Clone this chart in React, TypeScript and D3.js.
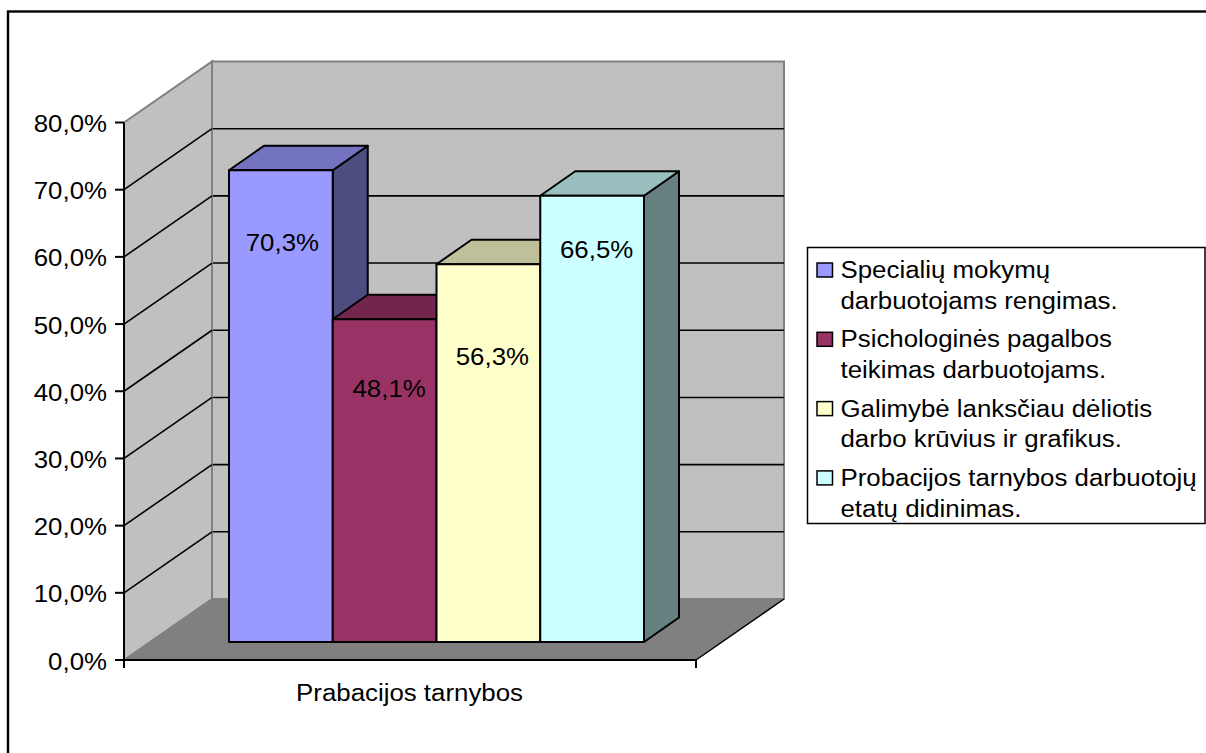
import React from "react";
import * as d3 from "d3";

const categories = ["Prabacijos tarnybos"];
const seriesValues = [70.3, 48.1, 56.3, 66.5];
const valueLabels = ["70,3%", "48,1%", "56,3%", "66,5%"];
const seriesFront = ["#9999ff", "#993366", "#ffffcc", "#ccffff"];
const seriesTop = ["#7373bf", "#73264d", "#bfbf99", "#99bfbf"];
const seriesSide = ["#4d4d80", "#4d1a33", "#808066", "#668080"];
const legendLines = [
  ["Specialių mokymų", "darbuotojams rengimas."],
  ["Psichologinės pagalbos", "teikimas darbuotojams."],
  ["Galimybė lanksčiau dėliotis", "darbo krūvius ir grafikus."],
  ["Probacijos tarnybos darbuotojų", "etatų didinimas."],
];
const yTicks = [0, 10, 20, 30, 40, 50, 60, 70, 80];
const yTickLabels = ["0,0%", "10,0%", "20,0%", "30,0%", "40,0%", "50,0%", "60,0%", "70,0%", "80,0%"];

const FONT = "'Liberation Sans', Arial, sans-serif";
const labelShiftX = [1.5, 4.5, 4, 4.5];
const labelShiftY = [81, 77.5, 101, 62];

function T({ x, y, anchor, children }: { x: number; y: number; anchor?: string; children: React.ReactNode }) {
  return (
    <text transform={`translate(${x},${y}) scale(1.055,1)`} textAnchor={anchor || "start"} fontSize={24.5} fill="#000">
      {children}
    </text>
  );
}

export default function App() {
  const y = d3.scaleLinear().domain([0, 80]).range([660, 122.5]);
  const barY = d3.scaleLinear().domain([0, 80]).range([642, 105.2]);
  const x = d3.scaleLinear().domain([0, 1]).range([124, 696]);
  const wallDx = 88, wallDy = -61;
  const barX = d3.scaleBand<number>().domain(d3.range(seriesValues.length)).range([229, 644]);
  const barDx = 35, barDy = -24.5;
  const x0 = x(0), x1 = x(1), y0 = y(0);
  const poly = (pts: [number, number][]) => pts.map((p) => p.join(",")).join(" ");
  const barW = barX.bandwidth();

  return (
    <svg width={1206} height={753} style={{ position: "absolute", left: 0, top: 0, fontFamily: FONT }}>
      <rect x={0} y={0} width={1206} height={753} fill="#fff" />
      <rect x={8} y={11.5} width={1300} height={800} fill="#fff" stroke="#000" strokeWidth={2.4} />

      {/* walls and floor */}
      <polygon points={poly([[x0 + wallDx, y(80) + wallDy], [x1 + wallDx, y(80) + wallDy], [x1 + wallDx, y0 + wallDy], [x0 + wallDx, y0 + wallDy]])} fill="#c0c0c0" stroke="#808080" strokeWidth={2} />
      <polygon points={poly([[x0, y(80)], [x0 + wallDx, y(80) + wallDy], [x0 + wallDx, y0 + wallDy], [x0, y0]])} fill="#c0c0c0" stroke="#808080" strokeWidth={2} />
      <polygon points={poly([[x0, y0], [x1, y0], [x1 + wallDx, y0 + wallDy], [x0 + wallDx, y0 + wallDy]])} fill="#808080" stroke="#808080" strokeWidth={1} />
      <line x1={x1} y1={y0} x2={x1 + wallDx} y2={y0 + wallDy} stroke="#000" strokeWidth={1.5} />

      {/* gridlines */}
      {yTicks.slice(1, -1).map((t) => (
        <g key={t} stroke="#000" strokeWidth={1.6}>
          <line x1={x0} y1={y(t)} x2={x0 + wallDx} y2={y(t) + wallDy} />
          <line x1={x0 + wallDx + 1} y1={y(t) + wallDy} x2={x1 + wallDx} y2={y(t) + wallDy} />
        </g>
      ))}

      {/* axes */}
      <line x1={x0} y1={y(80)} x2={x0} y2={y0 + 8} stroke="#000" strokeWidth={2} />
      <line x1={x0} y1={y0} x2={x1} y2={y0} stroke="#000" strokeWidth={2} />
      <line x1={x1} y1={y0} x2={x1} y2={y0 + 8} stroke="#000" strokeWidth={2} />
      {yTicks.map((t, i) => (
        <g key={t}>
          <line x1={x0 - 9} y1={y(t)} x2={x0} y2={y(t)} stroke="#000" strokeWidth={2} />
          <T x={107} y={y(t) + 9.5} anchor="end">{yTickLabels[i]}</T>
        </g>
      ))}
      <T x={409.5} y={700.5} anchor="middle">{categories[0]}</T>

      {/* bars */}
      {seriesValues.map((v, i) => {
        const l = barX(i)!;
        const r = l + barW;
        const b = barY(0);
        const t = barY(v);
        return (
          <g key={i} stroke="#000" strokeWidth={2} strokeLinejoin="round">
            <polygon points={poly([[r, t], [r + barDx, t + barDy], [r + barDx, b + barDy], [r, b]])} fill={seriesSide[i]} />
            <polygon points={poly([[l, t], [l + barDx, t + barDy], [r + barDx, t + barDy], [r, t]])} fill={seriesTop[i]} />
            <rect x={l} y={t} width={barW} height={b - t} fill={seriesFront[i]} />
          </g>
        );
      })}
      {seriesValues.map((v, i) => (
        <T key={i} x={barX(i)! + barW / 2 + labelShiftX[i]} y={barY(v) + labelShiftY[i]} anchor="middle">
          {valueLabels[i]}
        </T>
      ))}

      {/* legend */}
      <rect x={807.5} y={247.5} width={397.5} height={276} fill="#fff" stroke="#000" strokeWidth={1.5} />
      {legendLines.map((lines, i) => {
        const top = 276 + i * 69.3;
        return (
          <g key={i}>
            <rect x={817} y={top - 13} width={15.5} height={14} fill={seriesFront[i]} stroke="#000" strokeWidth={1.5} />
            {lines.map((s, j) => (
              <T key={j} x={840.5} y={top + 2 + j * 30.7}>{s}</T>
            ))}
          </g>
        );
      })}
    </svg>
  );
}
